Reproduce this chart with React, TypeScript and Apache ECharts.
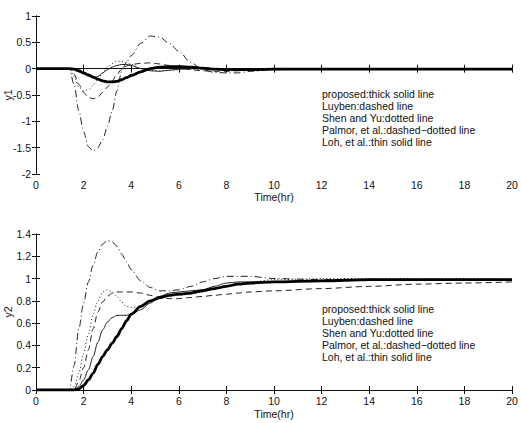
import React, { useEffect, useRef } from "react";
import * as echarts from "echarts";

// Shared time grid (hours)
const time = [0, 1, 1.4, 1.6, 1.8, 2, 2.2, 2.4, 2.6, 2.8, 3, 3.2, 3.4, 3.6, 3.8, 4, 4.4, 4.8, 5.2, 5.6, 6, 6.5, 7, 7.5, 8, 8.5, 9, 10, 12, 14, 16, 18, 20];

// y1 responses
const y1Proposed = [0, 0, 0, -0.01, -0.04, -0.08, -0.12, -0.16, -0.2, -0.23, -0.25, -0.25, -0.24, -0.21, -0.17, -0.13, -0.06, 0.0, 0.03, 0.04, 0.04, 0.03, 0.01, -0.01, -0.02, -0.02, -0.02, -0.01, -0.01, -0.01, -0.01, -0.01, -0.01];
const y1Luyben = [0, 0, 0, -0.1, -0.3, -0.45, -0.55, -0.57, -0.54, -0.45, -0.35, -0.23, -0.11, -0.01, 0.05, 0.08, 0.1, 0.11, 0.09, 0.06, 0.02, -0.02, -0.04, -0.05, -0.05, -0.04, -0.03, -0.01, 0, 0, 0, 0, 0];
const y1ShenYu = [0, 0, 0, -0.15, -0.35, -0.42, -0.4, -0.32, -0.2, -0.08, 0.03, 0.1, 0.14, 0.14, 0.12, 0.08, 0.01, -0.03, -0.04, -0.03, -0.02, -0.01, 0, 0, 0, 0, 0, 0, 0, 0, 0, 0, 0];
const y1Palmor = [0, 0, 0, -0.3, -0.8, -1.2, -1.48, -1.56, -1.5, -1.35, -1.1, -0.8, -0.42, -0.05, 0.12, 0.25, 0.48, 0.62, 0.6, 0.48, 0.33, 0.12, -0.02, -0.07, -0.08, -0.08, -0.05, -0.02, 0, 0, 0, 0, 0];
const y1Loh = [0, 0, 0, -0.02, -0.06, -0.1, -0.14, -0.17, -0.15, -0.08, -0.02, 0.03, 0.06, 0.08, 0.08, 0.06, 0.0, -0.04, -0.05, -0.03, -0.01, 0, 0, 0, 0, 0, 0, 0, 0, 0, 0, 0, 0];

// y2 responses
const y2Proposed = [0, 0, 0, 0, 0.01, 0.04, 0.09, 0.15, 0.23, 0.3, 0.36, 0.42, 0.48, 0.55, 0.62, 0.68, 0.75, 0.8, 0.83, 0.85, 0.86, 0.87, 0.89, 0.91, 0.93, 0.95, 0.96, 0.97, 0.98, 0.99, 0.99, 0.99, 0.99];
const y2Luyben = [0, 0, 0, 0, 0.08, 0.2, 0.36, 0.55, 0.7, 0.79, 0.84, 0.87, 0.88, 0.88, 0.88, 0.88, 0.87, 0.85, 0.83, 0.82, 0.82, 0.83, 0.84, 0.85, 0.86, 0.87, 0.88, 0.89, 0.91, 0.93, 0.95, 0.96, 0.97];
const y2ShenYu = [0, 0, 0, 0.03, 0.15, 0.33, 0.5, 0.68, 0.8, 0.88, 0.9, 0.88, 0.84, 0.79, 0.75, 0.74, 0.75, 0.79, 0.82, 0.84, 0.85, 0.86, 0.88, 0.91, 0.94, 0.96, 0.97, 0.99, 1.0, 1.0, 1.0, 1.0, 1.0];
const y2Palmor = [0, 0, 0, 0.22, 0.55, 0.78, 0.97, 1.12, 1.24, 1.31, 1.34, 1.33, 1.29, 1.22, 1.15, 1.08, 0.98, 0.92, 0.89, 0.89, 0.9, 0.93, 0.97, 1.0, 1.02, 1.02, 1.02, 1.0, 0.99, 0.99, 0.99, 0.99, 0.99];
const y2Loh = [0, 0, 0, 0, 0.03, 0.09, 0.18, 0.3, 0.43, 0.54, 0.61, 0.65, 0.67, 0.67, 0.67, 0.68, 0.72, 0.78, 0.84, 0.87, 0.88, 0.89, 0.9, 0.93, 0.96, 0.97, 0.97, 0.97, 0.98, 0.99, 0.99, 0.99, 0.99];

const legendLines = [
  "proposed:thick solid line",
  "Luyben:dashed line",
  "Shen and Yu:dotted line",
  "Palmor, et al.:dashed\u2212dotted line",
  "Loh, et al.:thin solid line",
];

const FONT = "'Liberation Sans', Arial, Helvetica, sans-serif";
const INK = "#111";

const zip = (ys: number[]) => time.map((t, i) => [t, ys[i]]);

type Style = { type: any; width: number; color: string };
const styles: Record<string, Style> = {
  proposed: { type: "solid", width: 2.8, color: "#000" },
  luyben: { type: [6, 4], width: 1, color: "#222" },
  shenYu: { type: [1, 2.5], width: 1, color: "#222" },
  palmor: { type: [7, 3, 1, 3], width: 1, color: "#222" },
  loh: { type: "solid", width: 1, color: "#222" },
};

function lineSeries(name: string, ys: number[], style: Style, idx: number) {
  return {
    type: "line",
    name,
    xAxisIndex: idx * 2,
    yAxisIndex: idx * 2,
    data: zip(ys),
    showSymbol: false,
    smooth: 0.3,
    smoothMonotone: "x",
    lineStyle: { type: style.type, width: style.width, color: style.color },
    z: style.width > 2 ? 5 : 3,
  };
}

const GRID_LEFT = 36;
const GRID_RIGHT = 9;

export default function App() {
  const ref = useRef<HTMLDivElement>(null);

  useEffect(() => {
    if (!ref.current) return;
    const chart = echarts.init(ref.current, undefined, { renderer: "svg" });

    const axisLine = { show: true, lineStyle: { color: INK, width: 1 } };
    const tick = { show: true, inside: true, length: 4, lineStyle: { color: INK } };
    const label = { color: INK, fontSize: 10.5, fontFamily: FONT };

    const xPair = (gridIndex: number, nameGap: number) => [
      {
        type: "value", gridIndex, position: "bottom", min: 0, max: 20, interval: 2,
        axisLine, axisTick: tick, splitLine: { show: false },
        axisLabel: { ...label, margin: 5 },
        name: "Time(hr)", nameLocation: "middle", nameGap, nameMoveOverlap: false,
        nameTextStyle: { color: INK, fontSize: 10.5, fontFamily: FONT },
      },
      {
        type: "value", gridIndex, position: "top", min: 0, max: 20, interval: 2,
        axisLine, axisTick: tick, splitLine: { show: false }, axisLabel: { show: false },
      },
    ];

    const yPair = (gridIndex: number, min: number, max: number, interval: number, name: string) => [
      {
        type: "value", gridIndex, position: "left", min, max, interval,
        axisLine, axisTick: tick, splitLine: { show: false },
        axisLabel: { ...label, margin: 5 },
        name, nameLocation: "middle", nameGap: 23, nameRotate: 90, nameMoveOverlap: false,
        nameTextStyle: { color: INK, fontSize: 10.5, fontFamily: FONT },
      },
      {
        type: "value", gridIndex, position: "right", min, max, interval,
        axisLine, axisTick: tick, splitLine: { show: false }, axisLabel: { show: false },
      },
    ];

    const legendGroup = (top: number) => ({
      type: "group",
      left: 322,
      top,
      children: legendLines.map((t, i) => ({
        type: "text",
        x: 0,
        y: i * 12,
        style: { text: t, fill: INK, fontSize: 10.5, fontFamily: FONT },
      })),
    });

    chart.setOption({
      animation: false,
      backgroundColor: "#fff",
      grid: [
        { left: GRID_LEFT, right: GRID_RIGHT, top: 16, height: 158, outerBoundsMode: "none", containLabel: false },
        { left: GRID_LEFT, right: GRID_RIGHT, top: 234, height: 156, outerBoundsMode: "none", containLabel: false },
      ],
      xAxis: [...xPair(0, 17), ...xPair(1, 18)],
      yAxis: [...yPair(0, -2, 1, 0.5, "y1"), ...yPair(1, 0, 1.4, 0.2, "y2")],
      series: [
        lineSeries("Luyben", y1Luyben, styles.luyben, 0),
        lineSeries("Shen and Yu", y1ShenYu, styles.shenYu, 0),
        lineSeries("Palmor", y1Palmor, styles.palmor, 0),
        lineSeries("Loh", y1Loh, styles.loh, 0),
        lineSeries("proposed", y1Proposed, styles.proposed, 0),
        lineSeries("Luyben", y2Luyben, styles.luyben, 1),
        lineSeries("Shen and Yu", y2ShenYu, styles.shenYu, 1),
        lineSeries("Palmor", y2Palmor, styles.palmor, 1),
        lineSeries("Loh", y2Loh, styles.loh, 1),
        lineSeries("proposed", y2Proposed, styles.proposed, 1),
      ],
      graphic: [legendGroup(88), legendGroup(303)],
    });

    return () => chart.dispose();
  }, []);

  return (
    <div
      ref={ref}
      style={{ position: "fixed", left: 0, top: 0, width: 521, height: 423, background: "#fff" }}
    />
  );
}
